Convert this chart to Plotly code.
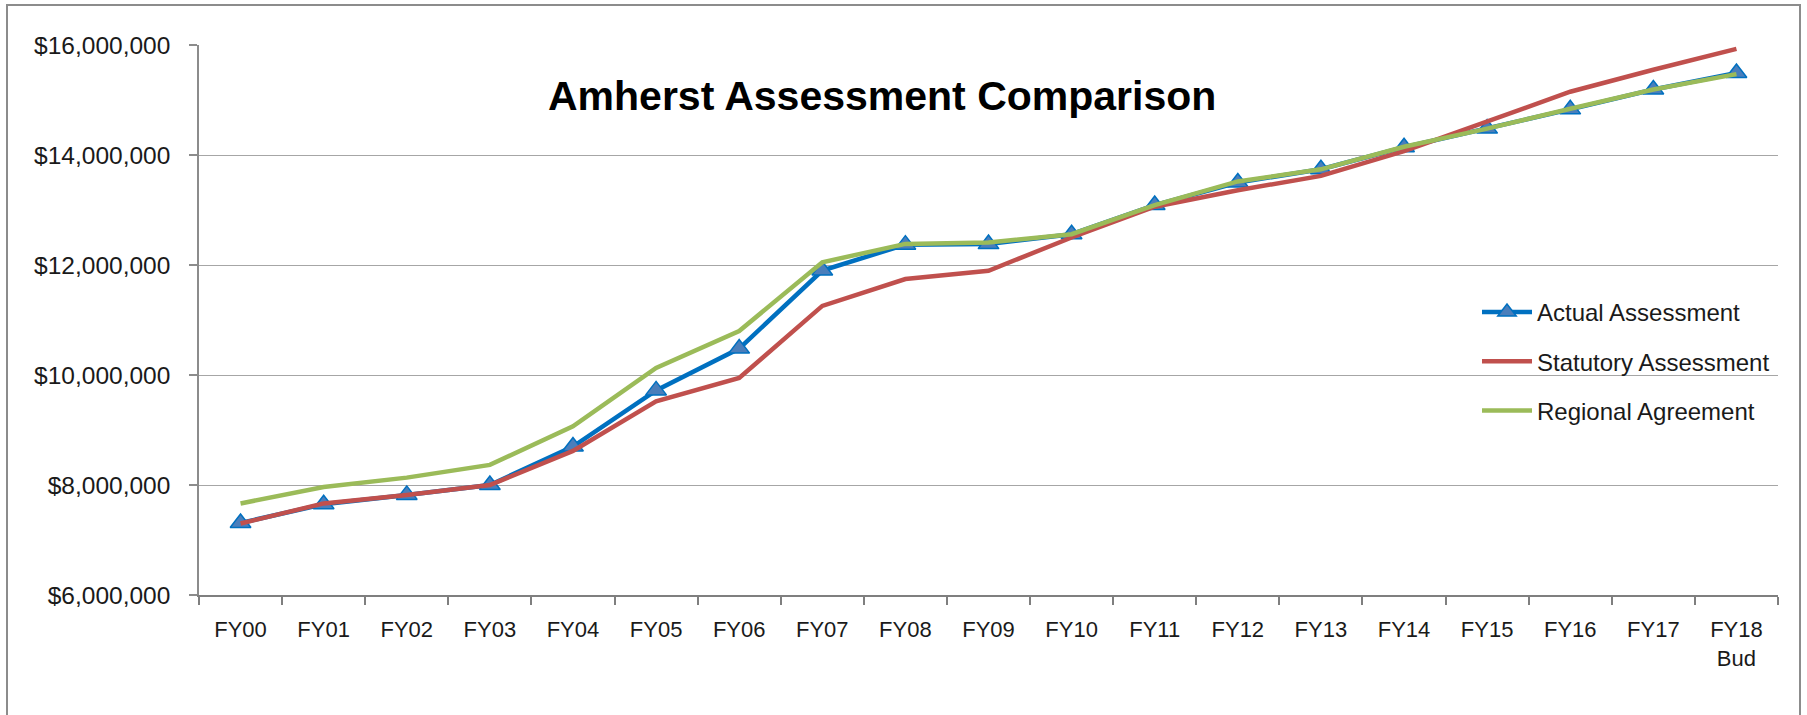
import plotly.graph_objects as go

categories = ["FY00", "FY01", "FY02", "FY03", "FY04", "FY05", "FY06", "FY07", "FY08", "FY09",
              "FY10", "FY11", "FY12", "FY13", "FY14", "FY15", "FY16", "FY17", "FY18<br>Bud"]

actual_assessment = [7310000, 7650000, 7820000, 8000000, 8700000, 9720000, 10480000, 11900000,
                     12370000, 12380000, 12560000, 13090000, 13500000, 13740000, 14140000,
                     14480000, 14830000, 15190000, 15490000]
statutory_assessment = [7300000, 7665000, 7820000, 8000000, 8620000, 9520000, 9945000, 11256000,
                        11744000, 11896000, 12500000, 13060000, 13360000, 13620000, 14070000,
                        14600000, 15150000, 15550000, 15930000]
regional_agreement = [7665000, 7963000, 8134000, 8366000, 9067000, 10128000, 10800000, 12049000,
                      12384000, 12410000, 12560000, 13090000, 13520000, 13740000, 14150000,
                      14480000, 14840000, 15190000, 15470000]

y_ticks = [6000000, 8000000, 10000000, 12000000, 14000000, 16000000]

W, H = 1807, 715
L, R, T, B = 199, 29, 45, 120

FONT = "Liberation Sans, Arial, sans-serif"

fig = go.Figure()
fig.add_trace(go.Scatter(
    x=categories, y=actual_assessment, name="Actual Assessment", mode="lines+markers",
    line=dict(color="#0070C0", width=4.5),
    marker=dict(symbol="triangle-up", size=18, color="#4A7EBB", line=dict(color="#0070C0", width=1.5)),
    legendgroup="a"))
fig.add_trace(go.Scatter(
    x=categories, y=statutory_assessment, name="Statutory Assessment", mode="lines",
    line=dict(color="#C0504D", width=4.5), legendgroup="b"))
fig.add_trace(go.Scatter(
    x=categories, y=regional_agreement, name="Regional Agreement", mode="lines",
    line=dict(color="#9BBB59", width=4.5), legendgroup="c"))

pw = W - L - R
ph = H - T - B

def px_x(x):
    return (x - L) / pw

def px_y(y):
    return (H - B - y) / ph

fig.update_layout(
    width=W, height=H,
    margin=dict(l=L, r=R, t=T, b=B, autoexpand=False),
    paper_bgcolor="white", plot_bgcolor="white",
    font=dict(family=FONT, color="#1a1a1a", size=22),
    showlegend=True,
    legend=dict(
        x=px_x(1477), y=px_y(290), xanchor="left", yanchor="top",
        font=dict(size=24, family=FONT, color="#1a1a1a"),
        traceorder="grouped", tracegroupgap=15,
        bgcolor="rgba(0,0,0,0)", itemwidth=50,
    ),
    annotations=[dict(
        text="<b>Amherst Assessment Comparison</b>", xref="paper", yref="paper",
        x=px_x(882), y=px_y(96), xanchor="center", yanchor="middle", showarrow=False,
        font=dict(size=41, family=FONT, color="#000000"))],
    shapes=[dict(
        type="rect", xref="paper", yref="paper",
        x0=px_x(7), x1=px_x(1800), y0=px_y(730), y1=px_y(5),
        line=dict(color="#8c8c8c", width=2), fillcolor="rgba(0,0,0,0)", layer="below")],
)

fig.update_xaxes(
    type="category", showgrid=False, showline=True, linecolor="#7f7f7f", linewidth=1.5,
    ticks="outside", ticklen=8, tickcolor="#7f7f7f", tickwidth=1.5, tickson="boundaries",
    tickfont=dict(size=22, family=FONT, color="#1a1a1a"), ticklabelstandoff=14,
    range=[-0.5, len(categories) - 0.5], zeroline=False,
)
fig.update_yaxes(
    range=[6000000, 16000000], tickvals=y_ticks, tickformat="$,.0f",
    showgrid=True, gridcolor="#a6a6a6", gridwidth=1,
    showline=True, linecolor="#8c8c8c", linewidth=1.5,
    ticks="outside", ticklen=8, tickcolor="#8c8c8c", tickwidth=1.5,
    tickfont=dict(size=24.5, family=FONT, color="#1a1a1a"), ticklabelstandoff=14,
    zeroline=False,
)

fig.write_html("out.html", config={"displayModeBar": False},
               post_script="document.body.style.margin='0px';document.body.style.overflow='hidden';")
